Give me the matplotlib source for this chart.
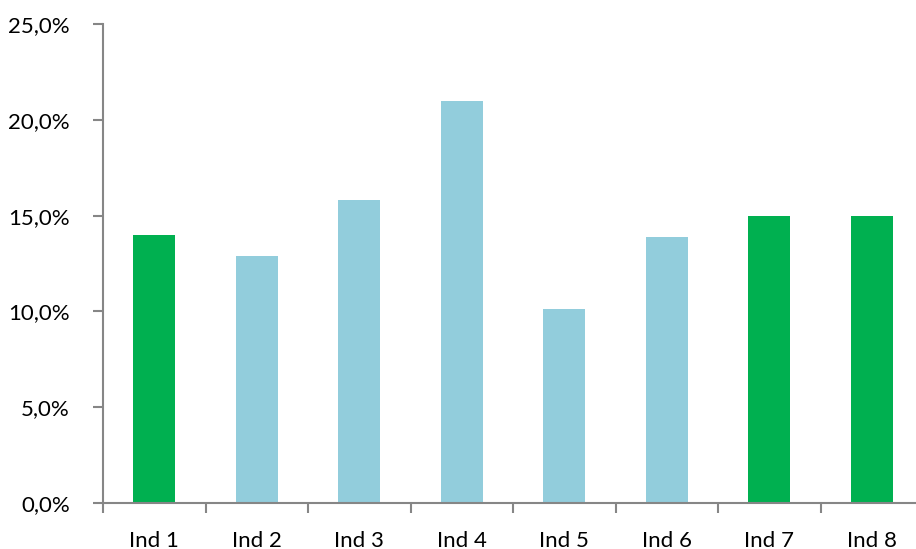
import matplotlib.pyplot as plt
from matplotlib.ticker import FuncFormatter

# Share per indicator
labels = ["Ind 1", "Ind 2", "Ind 3", "Ind 4", "Ind 5", "Ind 6", "Ind 7", "Ind 8"]
values = [14.0, 12.9, 15.8, 21.0, 10.1, 13.9, 15.0, 15.0]
highlight = [True, False, False, False, False, False, True, True]

green = "#00B050"
blue = "#92CDDC"
grey = "#868686"

plt.rcParams["font.family"] = ["Lato", "DejaVu Sans"]

fig = plt.figure(figsize=(9.16, 5.49), dpi=100)
ax = fig.add_axes([103 / 916, 46 / 549, 820 / 916, 479 / 549])

colors = [green if h else blue for h in highlight]
xs = range(len(labels))
ax.bar(xs, values, width=0.41, color=colors, zorder=2)

ax.set_xlim(-0.5, len(labels) - 0.5)
ax.set_ylim(0, 25)
ax.set_yticks([0, 5, 10, 15, 20, 25])
ax.yaxis.set_major_formatter(FuncFormatter(lambda v, p: f"{v:.1f}%".replace(".", ",")))

# category labels centred, tick marks on the boundaries
ax.set_xticks(list(xs))
ax.set_xticklabels(labels)
ax.set_xticks([i - 0.5 for i in range(len(labels) + 1)], minor=True)
ax.tick_params(axis="x", which="major", length=0, pad=20, labelsize=16)
ax.tick_params(axis="x", which="minor", length=7, width=1.5, color=grey, direction="out")
ax.tick_params(axis="y", length=7, width=1.5, color=grey, pad=17, labelsize=16)

for side in ["top", "right"]:
    ax.spines[side].set_visible(False)
for side in ["left", "bottom"]:
    ax.spines[side].set_color(grey)
    ax.spines[side].set_linewidth(1.5)

fig.savefig("out.png", dpi=100)
